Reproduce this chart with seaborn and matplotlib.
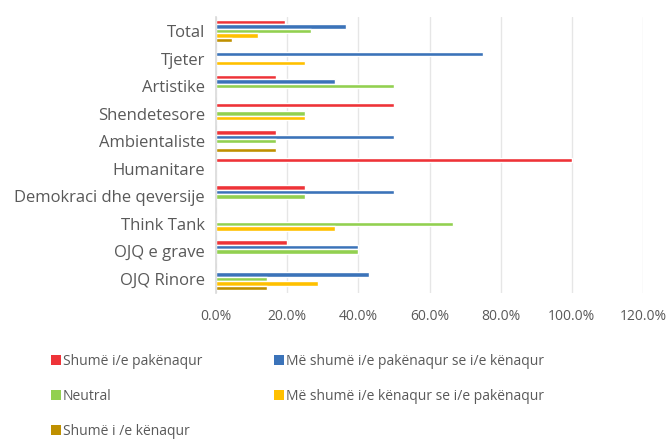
import pandas as pd
import matplotlib.pyplot as plt
import seaborn as sns
from matplotlib.patches import Patch
from matplotlib.ticker import PercentFormatter

categories = ["Total", "Tjeter", "Artistike", "Shendetesore", "Ambientaliste",
              "Humanitare", "Demokraci dhe qeversije", "Think Tank",
              "OJQ e grave", "OJQ Rinore"]
series = ["Shumë i/e pakënaqur",
          "Më shumë i/e pakënaqur se i/e kënaqur",
          "Neutral",
          "Më shumë i/e kënaqur se i/e pakënaqur",
          "Shumë i /e kënaqur"]
very_unsat = [19.3, 0, 16.7, 50.0, 16.7, 100.0, 25.0, 0, 20.0, 0]
more_unsat = [36.5, 75.0, 33.3, 0, 50.0, 0, 50.0, 0, 40.0, 42.9]
neutral = [26.6, 0, 50.0, 25.0, 16.7, 0, 25.0, 66.7, 40.0, 14.3]
more_sat = [11.9, 25.0, 0, 25.0, 0, 0, 0, 33.3, 0, 28.6]
very_sat = [4.6, 0, 0, 0, 16.7, 0, 0, 0, 0, 14.3]
colors = ["#EE3338", "#3B73B9", "#92D050", "#FFC000", "#BF9000"]

values = [very_unsat, more_unsat, neutral, more_sat, very_sat]
rows = []
for s, vals in zip(series, values):
    for c, v in zip(categories, vals):
        rows.append({"category": c, "series": s, "value": v})
df = pd.DataFrame(rows)

sns.set_style("white")
plt.rcParams["font.family"] = ["Open Sans", "DejaVu Sans"]
text_color = "#595959"

fig = plt.figure(figsize=(6.67, 4.41), dpi=100)
ax = fig.add_axes([0.324, 0.336, 0.64, 0.625])

sns.barplot(data=df, y="category", x="value", hue="series", order=categories,
            hue_order=series, palette=colors, orient="h", width=0.8,
            saturation=1, errorbar=None, legend=False, ax=ax)

ax.set_xlim(0, 120)
ax.set_xticks(range(0, 121, 20))
ax.xaxis.set_major_formatter(PercentFormatter(decimals=1))
ax.grid(axis="x", color="#E6E6E6", linewidth=1)
ax.set_axisbelow(True)
for side in ["top", "right", "bottom"]:
    ax.spines[side].set_visible(False)
ax.spines["left"].set_color("#D9D9D9")
ax.spines["left"].set_linewidth(1.2)
ax.set_xlabel("")
ax.set_ylabel("")
ax.tick_params(axis="both", length=0)
ax.tick_params(axis="y", labelsize=12, labelcolor=text_color, pad=8)
ax.tick_params(axis="x", labelsize=10, labelcolor=text_color, pad=12)

# legend is filled column by column, so reorder to read row by row
order = [0, 2, 4, 1, 3]
handles = [Patch(facecolor=colors[i], edgecolor="none") for i in order]
labels = [series[i] for i in order]
leg = fig.legend(handles, labels, loc="upper left", bbox_to_anchor=(0.057, 0.226),
                 ncol=2, frameon=False, fontsize=10, labelcolor=text_color,
                 handlelength=0.75, handleheight=0.75, handletextpad=0.15,
                 columnspacing=5.15, labelspacing=1.45)

fig.savefig("out.png", dpi=100)
